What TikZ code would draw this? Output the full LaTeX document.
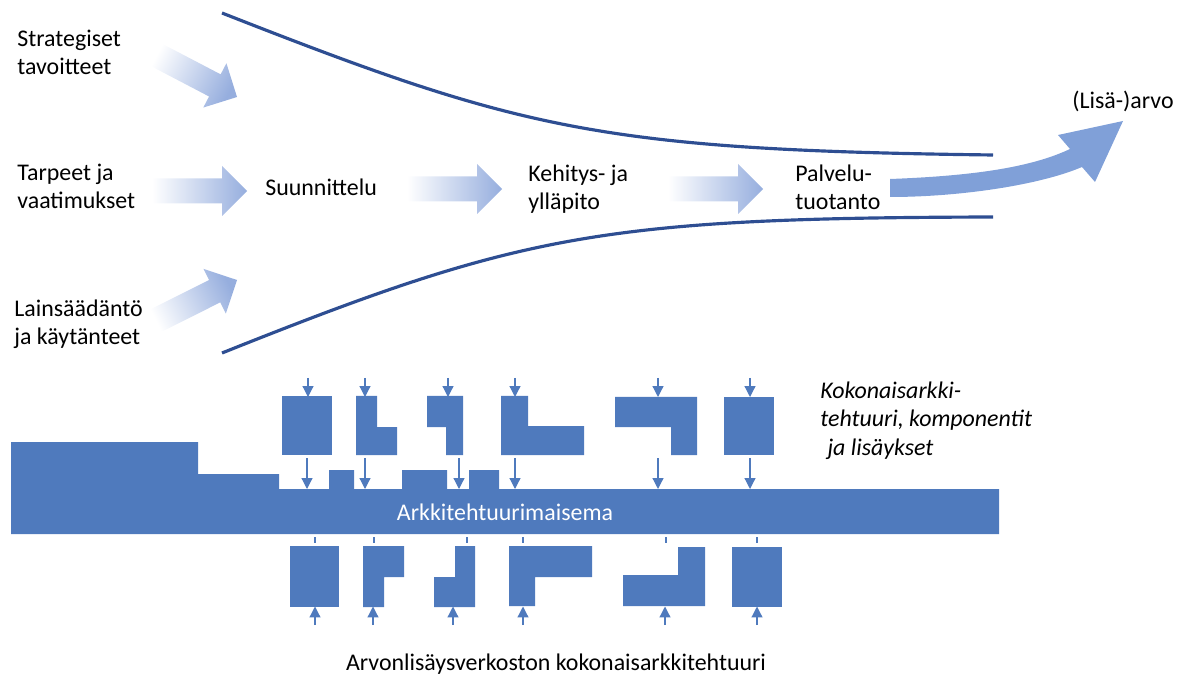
\documentclass[tikz,border=0pt]{standalone}
\usepackage{fontspec}
\setmainfont{Carlito}
\usetikzlibrary{arrows.meta}
\definecolor{archblue}{RGB}{79,122,189}
\definecolor{flowblue}{RGB}{150,174,222}
\definecolor{valueblue}{RGB}{128,160,216}
\definecolor{funnelblue}{RGB}{46,78,146}
\newcommand{\labfont}{\fontsize{13.6}{16}\selectfont}
\tikzset{
    labelsty/.style={anchor=base west, align=left, inner sep=0pt, font=\labfont},
    funnelsty/.style={draw=funnelblue, line width=1.8pt},
    flowsty/.style={left color=white, right color=flowblue, draw=none},
    blocksty/.style={fill=archblue, draw=none},
    pinsty/.style={draw=archblue, line width=0.7pt, -{Triangle[width=6.2pt,length=6.2pt]}},
    ticksty/.style={draw=archblue, line width=0.6pt},
}
\newcommand{\flowarrow}[4]{%
  \begin{scope}[shift={(#1,#2)}, rotate=#3]
    \shade[flowsty, shading angle=#4] (0,0) -- (-25,-25) -- (-25,-12.5) -- (-95,-12.5)
      -- (-95,12.5) -- (-25,12.5) -- (-25,25) -- cycle;
  \end{scope}}

\begin{document}
\begin{tikzpicture}[x=0.02cm, y=-0.02cm]
\useasboundingbox (0,0) rectangle (1183,675);

\draw[funnelsty] (222,13) .. controls (520,130) and (600,150) .. (993,155);
\draw[funnelsty] (222,353) .. controls (520,234) and (600,218) .. (993,217);

\node[labelsty] (strat) at (17,75) {Strategiset\\tavoitteet};
\node[labelsty] (needs) at (17,209) {Tarpeet ja\\vaatimukset};
\node[labelsty] (law) at (14,345) {Lainsäädäntö\\ja käytänteet};
\node[labelsty] (plan) at (265,196) {Suunnittelu};
\node[labelsty] (dev) at (528,210) {Kehitys- ja\\ylläpito};
\node[labelsty] (prod) at (795,210) {Palvelu-\\tuotanto};
\node[labelsty] (value) at (1072,109) {(Lisä-)arvo};

\flowarrow{237}{97}{-27.6}{62.4}
\flowarrow{247}{191}{0}{90}
\flowarrow{502}{189}{0}{90}
\flowarrow{763}{189}{0}{90}
\flowarrow{237}{280}{26.6}{116.6}

\fill[valueblue] (890,179) .. controls (970,176) and (1030,168) .. (1070,149) -- (1058,135)
  -- (1123,121) -- (1095,182) -- (1082,167) .. controls (1040,185) and (960,197) .. (890,197) -- cycle;

\fill[blocksty] (11,442) -- (198,442) -- (198,474) -- (279,474) -- (279,489) -- (329,489)
  -- (329,470) -- (354,470) -- (354,489) -- (402,489) -- (402,470) -- (447,470) -- (447,489)
  -- (469,489) -- (469,470) -- (499,470) -- (499,489) -- (999,489) -- (999,534) -- (11,534) -- cycle;
\node[font=\labfont, text=white, anchor=base, inner sep=0pt] (land) at (505,520) {Arkkitehtuurimaisema};

\fill[blocksty] (282,396) rectangle (332,455);
\fill[blocksty] (356,396) -- (377,396) -- (377,427) -- (397,427) -- (397,455) -- (356,455) -- cycle;
\fill[blocksty] (427,396) -- (463,396) -- (463,455) -- (446,455) -- (446,427) -- (427,427) -- cycle;
\fill[blocksty] (501,396) -- (528,396) -- (528,426) -- (584,426) -- (584,455) -- (501,455) -- cycle;
\fill[blocksty] (615,397) -- (697,397) -- (697,455) -- (671,455) -- (671,427) -- (615,427) -- cycle;
\fill[blocksty] (724,397) rectangle (774,455);

\fill[blocksty] (290,546) rectangle (339,607);
\fill[blocksty] (363,546) -- (404,546) -- (404,577) -- (384,577) -- (384,607) -- (363,607) -- cycle;
\fill[blocksty] (455,546) -- (475,546) -- (475,607) -- (434,607) -- (434,577) -- (455,577) -- cycle;
\fill[blocksty] (509,546) -- (592,546) -- (592,577) -- (535,577) -- (535,606) -- (509,606) -- cycle;
\fill[blocksty] (678,547) -- (705,547) -- (705,606) -- (623,606) -- (623,575) -- (678,575) -- cycle;
\fill[blocksty] (732,547) rectangle (782,607);

\foreach \x in {308,365,448,515,658,750}
  \draw[pinsty] (\x,378) coordinate (in-\x) -- (\x,397);
\foreach \x in {307,365,459,515,658,750}
  \draw[pinsty] (\x,458) coordinate (down-\x) -- (\x,489);
\foreach \x in {315,374,467,523,666,757}
  \draw[ticksty] (\x,537) coordinate (tick-\x) -- (\x,543);
\foreach \x in {315,373,453,523,665,757}
  \draw[pinsty] (\x,625) coordinate (up-\x) -- (\x,606.5);

\node[labelsty, font=\labfont\itshape] (ea) at (820,455)
  {Kokonaisarkki-\\tehtuuri, komponentit\\\hspace{0.3em}ja lisäykset};
\node[font=\labfont, anchor=base, inner sep=0pt] (vnet) at (556,670)
  {Arvonlisäysverkoston kokonaisarkkitehtuuri};
\end{tikzpicture}
\end{document}
